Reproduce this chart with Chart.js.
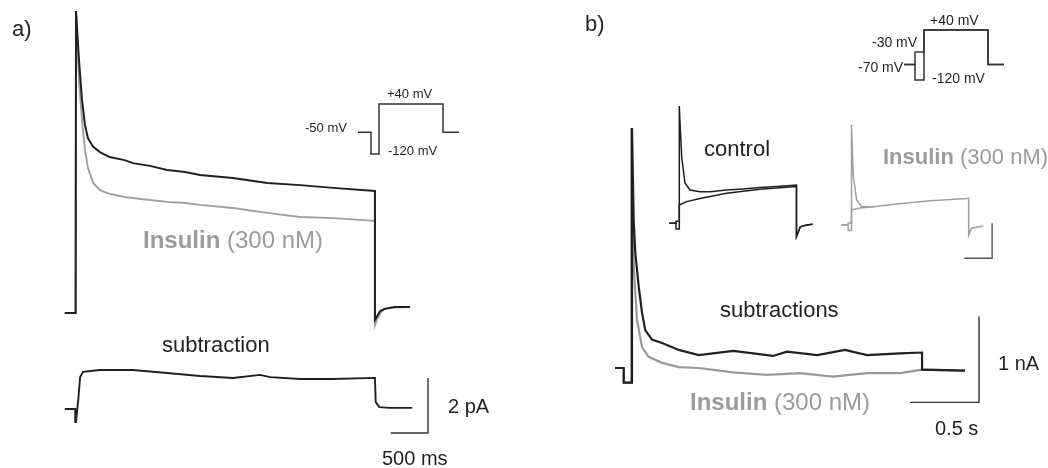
<!DOCTYPE html>
<html lang="en">
<head>
<meta charset="UTF-8">
<title>Insulin currents</title>
<style>
  body { margin: 0; background: #fff; }
  #wrap { position: relative; width: 1048px; height: 468px; font-family: "Liberation Sans", Arial, sans-serif; color: #231f20; }
  #fig { position: absolute; left: 0; top: 0; }
  .lbl { position: absolute; line-height: 1; white-space: nowrap; }
  .gray { color: #9b9b9b; }
</style>
</head>
<body>
<div id="wrap">
  <canvas id="fig" width="1048" height="468"></canvas>
</div>
<script src="https://cdn.jsdelivr.net/npm/chart.js"></script>
<script>
// ---- data ----
// a) whole-cell currents (ms, pA)
const tA = [-150, -5, 0, 40, 80, 120, 160, 230, 320, 450, 650, 760, 990, 1220, 1460, 1660, 2100, 2560, 3000, 3440, 4000, 4000, 4030, 4070, 4130, 4260, 4470];
const controlA = [0, 0, 10.98, 9.2, 7.75, 6.84, 6.36, 6.04, 5.85, 5.67, 5.56, 5.45, 5.35, 5.2, 5.13, 5.02, 4.91, 4.73, 4.65, 4.55, 4.44, -0.25, -0.11, 0.07, 0.15, 0.22, 0.22];
const insulinA = [0, 0, 10.98, 8.47, 7.02, 5.93, 5.27, 4.73, 4.47, 4.33, 4.22, 4.18, 4.11, 4.04, 4.0, 3.93, 3.82, 3.64, 3.49, 3.45, 3.35, -0.44, -0.22, 0, 0.15, 0.2, 0.22];

// a) subtraction (ms, pA)
const tSubA = [-150, -10, -10, 0, 30, 55, 95, 320, 760, 1220, 1660, 2100, 2460, 2600, 3000, 3440, 4000, 4010, 4060, 4200, 4500];
const subA = [0, 0, -0.47, -0.47, 0.33, 1.16, 1.35, 1.42, 1.42, 1.31, 1.2, 1.13, 1.24, 1.16, 1.09, 1.09, 1.13, 0.25, 0.07, 0.04, 0.04];

// a) voltage protocol (ms, mV)
const tProtoA = [0, 130, 130, 210, 210, 850, 850, 1010];
const vProtoA = [-50, -50, -120, -120, 40, 40, -50, -50];

// b) voltage protocols (ms, mV)
const tProtoB = [40, 150, 150, 240, 240, 880, 880, 1040];
const vProtoB1 = [-70, -70, -120, -120, 40, 40, -70, -70];
const vProtoB2 = [-70, -70, -30, -30, 40, 40, -70, -70];

// b) subtractions (ms, nA)
const tCtlSubB = [-123, -60, -60, 0, 0, 12, 24, 49, 73, 96, 145, 218, 339, 484, 735, 1022, 1123, 1343, 1544, 1704, 1943, 2103, 2103, 2414];
const ctlSubB = [0, 0, -0.17, -0.17, 2.79, 1.72, 1.34, 0.94, 0.64, 0.44, 0.33, 0.29, 0.21, 0.15, 0.2, 0.14, 0.19, 0.15, 0.21, 0.15, 0.17, 0.18, -0.02, -0.03];
const tInsSubB = [-123, -60, -60, -5, -5, 5, 14, 36, 73, 121, 218, 339, 484, 732, 979, 1218, 1457, 1704, 1943, 2103, 2414];
const insSubB = [0, 0, -0.17, -0.17, 2.79, 1.72, 1.14, 0.56, 0.24, 0.13, 0.06, 0.01, 0, -0.05, -0.08, -0.06, -0.1, -0.06, -0.06, -0.02, -0.03];

// b) control inset, two prepulses (ms, nA)
const tCtlIn1 = [-180, -60, -60, 0, 0, 13, 43, 102, 192, 371, 550, 849, 1142, 1446, 1745, 2100, 2100, 2168, 2283, 2390];
const ctlIn1 = [0, 0, 0.06, 0.06, 3.35, 2.87, 1.89, 1.15, 0.95, 0.9, 0.9, 0.95, 0.98, 1.02, 1.05, 1.09, -0.38, -0.1, -0.05, -0.03];
const tCtlIn2 = [-180, -60, -60, 0, 0, 133, 371, 849, 1446, 2100, 2100, 2168, 2283, 2390];
const ctlIn2 = [0, 0, -0.16, -0.16, 0.52, 0.62, 0.71, 0.86, 0.97, 1.05, -0.38, -0.1, -0.05, -0.03];

// b) insulin inset (ms, nA)
const tInsIn1 = [-180, -60, -60, 0, 0, 32, 93, 183, 390, 810, 1407, 2065, 2100, 2100, 2150, 2360];
const insIn1 = [0, 0, 0.06, 0.06, 2.86, 1.38, 0.71, 0.52, 0.52, 0.6, 0.69, 0.76, 0.77, -0.29, -0.09, -0.03];
const tInsIn2 = [-180, -60, -60, 0, 0, 183, 390];
const insIn2 = [0, 0, -0.16, -0.16, 0.43, 0.49, 0.52];

// scale bars: [time, amplitude]
const barA = [500, 2];      // ms, pA
const barB = [500, 1];      // ms, nA
const barInset = [500, 1];  // ms, nA

// ---- layout ----
const W = 1048, H = 468;
const BLACK = '#231f20', GRAY = '#a0a0a0';

// place value 0 at pixel zeroPx with pxPerUnit pixels per unit
function xScale(zeroPx, pxPerUnit) {
    const min = -zeroPx / pxPerUnit;
    return { type: 'linear', axis: 'x', display: false, min: min, max: min + W / pxPerUnit };
}
function yScale(zeroPx, pxPerUnit) {
    const max = zeroPx / pxPerUnit;
    return { type: 'linear', axis: 'y', display: false, min: max - H / pxPerUnit, max: max };
}

function trace(ts, vals, xID, yID, color, width) {
    return {
        data: ts.map((t, i) => ({ x: t, y: vals[i] })),
        xAxisID: xID, yAxisID: yID,
        borderColor: color, borderWidth: width,
        showLine: true, pointRadius: 0, tension: 0, fill: false, clip: false,
        borderJoinStyle: 'miter'
    };
}

// L-shaped scale bar with its corner at (t, v)
function scaleBar(t, v, bar, xID, yID, color) {
    return trace([t - bar[0], t, t], [v, v, v + bar[1]], xID, yID, color, 1.4);
}

const datasets = [
    // a)
    trace(tA, controlA, 'xa', 'ya', BLACK, 2),
    trace(tA, insulinA, 'xa', 'ya', GRAY, 1.9),
    trace(tSubA, subA, 'xa', 'ysa', BLACK, 1.9),
    scaleBar(4710, -0.87, barA, 'xa', 'ysa', '#333'),
    trace(tProtoA, vProtoA, 'xpa', 'ypa', '#333', 1.5),
    // b)
    trace(tProtoB, vProtoB1, 'xpb', 'ypb', '#333', 1.5),
    trace(tProtoB, vProtoB2, 'xpb', 'ypb', '#333', 1.5),
    trace(tCtlSubB, ctlSubB, 'xb', 'yb', BLACK, 2.2),
    trace(tInsSubB, insSubB, 'xb', 'yb', '#999', 2.2),
    scaleBar(2516, -0.40, barB, 'xb', 'yb', '#333'),
    trace(tCtlIn1, ctlIn1, 'xc', 'yc', BLACK, 1.5),
    trace(tCtlIn2, ctlIn2, 'xc', 'yc', BLACK, 1.5),
    trace(tInsIn1, insIn1, 'xi', 'yi', GRAY, 1.5),
    trace(tInsIn2, insIn2, 'xi', 'yi', GRAY, 1.5),
    scaleBar(2520, -0.95, barInset, 'xi', 'yi', '#555')
];

new Chart(document.getElementById('fig').getContext('2d'), {
    type: 'scatter',
    data: { datasets: datasets },
    options: {
        responsive: false,
        animation: false,
        devicePixelRatio: 1,
        events: [],
        layout: { padding: 0 },
        plugins: { legend: { display: false }, tooltip: { enabled: false } },
        scales: {
            x: { display: false }, y: { display: false },
            xa: xScale(76, 1 / 13.38), ya: yScale(313, 27.5), ysa: yScale(409, 27.5),
            xpa: xScale(358, 0.1), ypa: yScale(116.5, 0.3125),
            xpb: xScale(900, 0.1), ypb: yScale(42.5, 0.3125),
            xb: xScale(632, 1 / 7.25), yb: yScale(368, 86),
            xc: xScale(679.3, 0.0558), yc: yScale(223.3, 35),
            xi: xScale(851.5, 0.0558), yi: yScale(225, 35)
        }
    }
});

// ---- text ----
const wrap = document.getElementById('wrap');
function label(html, x, baseline, size, cls) {
    const d = document.createElement('div');
    d.className = 'lbl' + (cls ? ' ' + cls : '');
    d.style.fontSize = size + 'px';
    d.style.left = x + 'px';
    d.style.top = (baseline - 0.8465 * size) + 'px';
    d.innerHTML = html;
    wrap.appendChild(d);
    return d;
}
const ins = '<b>Insulin</b> (300 nM)';
label('a)', 12, 37, 22);
label('b)', 585, 32, 22);
const m50 = label('-50 mV', 0, 132, 13);
m50.style.left = (347 - m50.offsetWidth) + 'px';
label('+40 mV', 387, 98, 13);
label('-120 mV', 388, 155, 13);
label('+40 mV', 930, 25, 14);
label('-30 mV', 872, 47, 14);
label('-70 mV', 858, 72, 14);
label('-120 mV', 932, 83, 14);
label(ins, 143, 248, 24, 'gray');
label('subtraction', 162, 353, 22);
label('2 pA', 448, 413, 20);
label('500 ms', 382, 465, 20);
label('control', 704, 157, 22);
label(ins, 883, 165, 22, 'gray');
label('subtractions', 720, 318, 22);
label('1 nA', 998, 370, 20);
label('0.5 s', 935, 435, 20);
label(ins, 690, 410, 24, 'gray');
</script>
</body>
</html>
